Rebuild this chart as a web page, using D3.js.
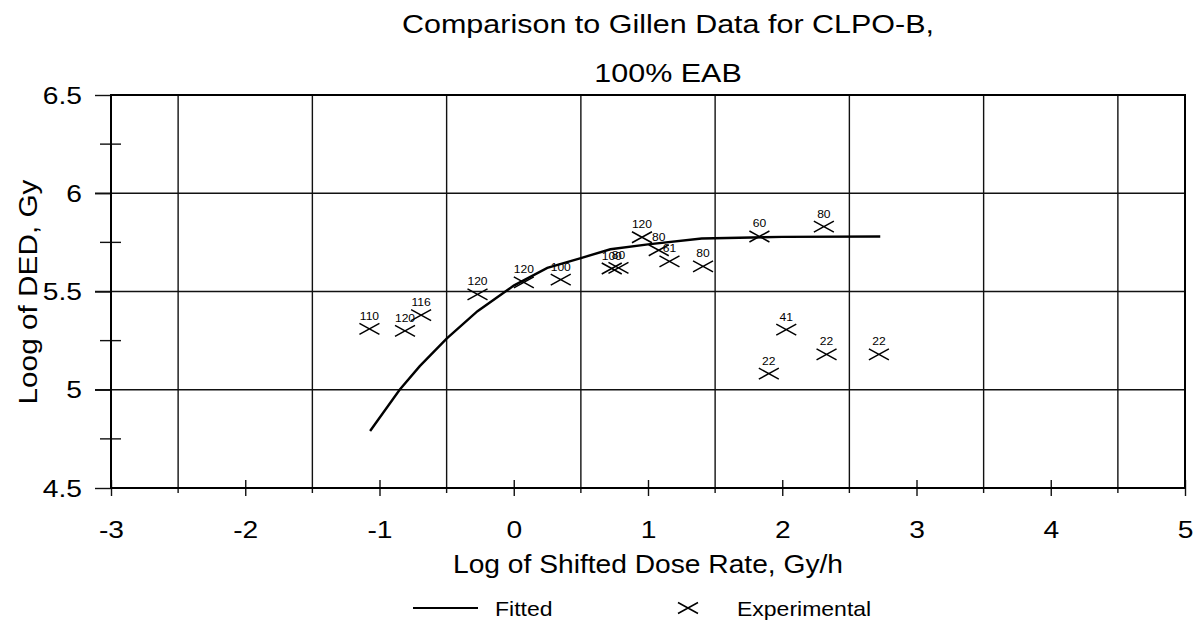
<!DOCTYPE html>
<html>
<head>
<meta charset="utf-8">
<script src="https://cdn.jsdelivr.net/npm/d3@7"></script>
<style>
  html, body { margin: 0; padding: 0; background: #fff; }
  svg { display: block; font-family: "Liberation Sans", Arial, sans-serif; }
</style>
</head>
<body>
<svg id="chart" width="1194" height="622"></svg>
<script>
// ---- data ----
const titleLines = ["Comparison to Gillen Data for CLPO-B,", "100% EAB"];
const xAxisTitle = "Log of Shifted Dose Rate, Gy/h";
const yAxisTitle = "Loog of DED, Gy";
const xTickValues = [-3, -2, -1, 0, 1, 2, 3, 4, 5];
const xTickLabels = ["-3", "-2", "-1", "0", "1", "2", "3", "4", "5"];
const yTickValues = [4.5, 5, 5.5, 6, 6.5];
const yTickLabels = ["4.5", "5", "5.5", "6", "6.5"];
const xGridValues = [-2.5, -1.5, -0.5, 0.5, 1.5, 2.5, 3.5, 4.5];
const yGridValues = [5, 5.5, 6];
const yMinorValues = [4.75, 5.25, 5.75, 6.25];

const fittedX = [-1.07, -0.85, -0.70, -0.50, -0.27, 0.00, 0.25, 0.50, 0.72, 1.00, 1.40, 2.00, 2.73];
const fittedY = [4.79, 5.00, 5.12, 5.26, 5.40, 5.53, 5.62, 5.67, 5.715, 5.74, 5.77, 5.778, 5.78];

const expX = [-1.075, -0.81, -0.69, -0.27, 0.075, 0.35, 0.73, 0.78, 0.955, 1.08, 1.16, 1.41, 1.83, 2.31, 2.03, 1.90, 2.33, 2.72];
const expY = [5.31, 5.30, 5.38, 5.485, 5.546, 5.56, 5.617, 5.62, 5.776, 5.71, 5.653, 5.628, 5.78, 5.83, 5.306, 5.082, 5.18, 5.18];
const expLabels = ["110", "120", "116", "120", "120", "100", "100", "80", "120", "80", "61", "80", "60", "80", "41", "22", "22", "22"];

const legendNames = ["Fitted", "Experimental"];

// ---- layout ----
const svg = d3.select("#chart");
const L = 111, R = 1185, T = 95, B = 488;
const x = d3.scaleLinear().domain([-3, 5]).range([L, R]);
const y = d3.scaleLinear().domain([4.5, 6.5]).range([B, T]);

function stretchedText(g, tx, ty, str, size, sx, anchor) {
  return g.append("text")
    .attr("transform", `translate(${tx},${ty}) scale(${sx},1)`)
    .attr("font-size", size)
    .attr("text-anchor", anchor || "middle")
    .attr("fill", "#000")
    .text(str);
}

// gridlines
svg.append("g").selectAll("line").data(xGridValues).join("line")
  .attr("x1", d => x(d)).attr("x2", d => x(d))
  .attr("y1", T).attr("y2", B + 5)
  .attr("stroke", "#111").attr("stroke-width", 1.4);
svg.append("g").selectAll("line").data(yGridValues).join("line")
  .attr("x1", L - 16).attr("x2", R)
  .attr("y1", d => y(d)).attr("y2", d => y(d))
  .attr("stroke", "#111").attr("stroke-width", 1.4);

// axes via d3
const xAxis = d3.axisBottom(x).tickValues(xTickValues).tickSize(8);
const gx = svg.append("g").attr("transform", `translate(0,${B})`).call(xAxis);
gx.select(".domain").remove();
gx.selectAll(".tick line").attr("y1", -8).attr("stroke", "#111").attr("stroke-width", 1.4);
gx.selectAll(".tick text").remove();
gx.selectAll(".tick").each(function(d, i) {
  stretchedText(d3.select(this), 0, 50, xTickLabels[i], 23.5, 1.2, "middle");
});

const yAxis = d3.axisLeft(y).tickValues(yTickValues).tickSize(16);
const gy = svg.append("g").attr("transform", `translate(${L},0)`).call(yAxis);
gy.select(".domain").remove();
gy.selectAll(".tick line").attr("stroke", "#111").attr("stroke-width", 1.4);
gy.selectAll(".tick text").remove();
gy.selectAll(".tick").each(function(d, i) {
  stretchedText(d3.select(this), -29, 8, yTickLabels[i], 23.5, 1.2, "end");
});
// minor y ticks (crossing)
svg.append("g").selectAll("line").data(yMinorValues).join("line")
  .attr("x1", L - 11).attr("x2", L + 10)
  .attr("y1", d => y(d)).attr("y2", d => y(d))
  .attr("stroke", "#111").attr("stroke-width", 1.4);

// plot border
svg.append("rect").attr("x", L).attr("y", T).attr("width", R - L).attr("height", B - T)
  .attr("fill", "none").attr("stroke", "#000").attr("stroke-width", 2);

// fitted line
const fitted = fittedX.map((d, i) => [d, fittedY[i]]);
svg.append("path").datum(fitted)
  .attr("d", d3.line().x(d => x(d[0])).y(d => y(d[1])))
  .attr("fill", "none").attr("stroke", "#000").attr("stroke-width", 2.4);

// experimental markers
const hw = 10, hh = 5.5;
const exp = expX.map((d, i) => ({ x: d, y: expY[i], label: expLabels[i] }));
const gm = svg.append("g");
exp.forEach(p => {
  const cx = x(p.x), cy = y(p.y);
  gm.append("path")
    .attr("d", `M${cx - hw},${cy - hh}L${cx + hw},${cy + hh}M${cx - hw},${cy + hh}L${cx + hw},${cy - hh}`)
    .attr("stroke", "#000").attr("stroke-width", 1.5).attr("fill", "none");
  stretchedText(gm, cx, cy - 9, p.label, 10.5, 1.15, "middle");
});

// titles
stretchedText(svg, 668, 33, titleLines[0], 25, 1.22, "middle");
stretchedText(svg, 668, 82, titleLines[1], 25, 1.22, "middle");
svg.append("text").attr("x", 648).attr("y", 573).attr("font-size", 25)
  .attr("text-anchor", "middle").attr("textLength", 390).attr("lengthAdjust", "spacingAndGlyphs")
  .text(xAxisTitle);
svg.append("text").attr("transform", `translate(37,292) rotate(-90)`).attr("font-size", 25)
  .attr("text-anchor", "middle").attr("textLength", 225).attr("lengthAdjust", "spacingAndGlyphs")
  .text(yAxisTitle);

// legend
const lg = svg.append("g");
lg.append("line").attr("x1", 413).attr("x2", 478).attr("y1", 608).attr("y2", 608)
  .attr("stroke", "#000").attr("stroke-width", 2);
stretchedText(lg, 495, 616, legendNames[0], 20, 1.15, "start");
lg.append("path")
  .attr("d", `M${688 - hw},${608 - hh}L${688 + hw},${608 + hh}M${688 - hw},${608 + hh}L${688 + hw},${608 - hh}`)
  .attr("stroke", "#000").attr("stroke-width", 1.5);
stretchedText(lg, 737, 616, legendNames[1], 20, 1.15, "start");
</script>
</body>
</html>
